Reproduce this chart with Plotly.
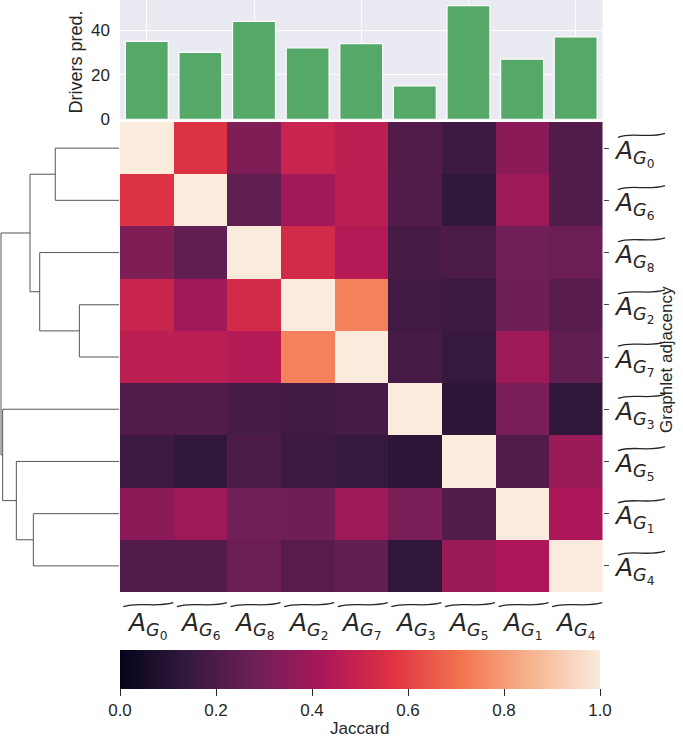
import plotly.graph_objects as go

# ---------------- data ----------------
label_digits = ["0", "6", "8", "2", "7", "3", "5", "1", "4"]   # clustered order
drivers_pred = [35, 30, 44, 32, 34, 15, 51, 27, 37]

jaccard = [
    [1.00, 0.56, 0.32, 0.50, 0.47, 0.21, 0.16, 0.35, 0.21],
    [0.56, 1.00, 0.25, 0.40, 0.465, 0.21, 0.13, 0.39, 0.21],
    [0.32, 0.25, 1.00, 0.53, 0.445, 0.185, 0.20, 0.285, 0.27],
    [0.50, 0.40, 0.53, 1.00, 0.74, 0.17, 0.16, 0.28, 0.225],
    [0.47, 0.465, 0.445, 0.74, 1.00, 0.185, 0.148, 0.39, 0.25],
    [0.21, 0.21, 0.185, 0.17, 0.185, 1.00, 0.12, 0.31, 0.125],
    [0.16, 0.13, 0.20, 0.16, 0.148, 0.12, 1.00, 0.213, 0.382],
    [0.35, 0.39, 0.285, 0.28, 0.39, 0.31, 0.213, 1.00, 0.428],
    [0.21, 0.21, 0.27, 0.225, 0.25, 0.125, 0.382, 0.428, 1.00],
]

# dendrogram merges (child a, child b, height); leaves 0..8, new nodes 9..
merge_a = [0, 3, 2, 9, 7, 6, 5, 12]
merge_b = [1, 4, 10, 11, 8, 13, 14, 15]
merge_h = [0.540, 0.336, 0.672, 0.754, 0.726, 0.870, 0.986, 1.0]

cbar_ticks = [0.0, 0.2, 0.4, 0.6, 0.8, 1.0]

rocket = [
    [0.0, "#03051a"], [1/7, "#35193e"], [2/7, "#701f57"], [3/7, "#ad1759"],
    [4/7, "#e13342"], [5/7, "#f37651"], [6/7, "#f6b48f"], [1.0, "#faebdd"],
]

# ---------------- layout geometry (pixels) ----------------
W, H = 683, 737
HM_L, HM_R, HM_T, HM_B = 120, 602.5, 122, 592
BAR_B = 119.3
DEN_L, DEN_R = 0, 120
TXT = "#262626"
FONT = "Liberation Sans, Arial, sans-serif"
n = len(label_digits)

def px(x):
    return x / W

def py(y):
    return 1 - y / H

cw = (HM_R - HM_L) / n
ch = (HM_B - HM_T) / n

fig = go.Figure()

# heatmap
fig.add_trace(go.Heatmap(
    z=jaccard, x=list(range(n)), y=list(range(n)),
    colorscale=rocket, zmin=0, zmax=1, xaxis="x", yaxis="y",
    colorbar=dict(
        orientation="h", x=px((HM_L + 600) / 2), xanchor="center",
        y=py(650), yanchor="top", len=480, lenmode="pixels",
        thickness=39, thicknessmode="pixels", xpad=0, ypad=0,
        outlinewidth=0, ticks="outside", ticklen=7, tickwidth=1,
        tickcolor=TXT, tickvals=cbar_ticks,
        ticktext=[f"{t:.1f}" for t in cbar_ticks],
        tickfont=dict(family=FONT, size=17, color=TXT),
    ),
    hoverongaps=False,
))

# bars
fig.add_trace(go.Bar(
    x=list(range(n)), y=drivers_pred, width=0.8,
    marker=dict(color="#55a868", line=dict(color="white", width=1.2)),
    xaxis="x2", yaxis="y2", showlegend=False,
))

# dendrogram
ypos = {i: float(i) for i in range(n)}
hpos = {i: 0.0 for i in range(n)}
dx, dy = [], []
for k, (a, b, h) in enumerate(zip(merge_a, merge_b, merge_h)):
    node = n + k
    dx += [hpos[a], h, h, hpos[b], None]
    dy += [ypos[a], ypos[a], ypos[b], ypos[b], None]
    ypos[node] = (ypos[a] + ypos[b]) / 2
    hpos[node] = h
fig.add_trace(go.Scatter(
    x=dx, y=dy, mode="lines", line=dict(color="#555555", width=1),
    xaxis="x3", yaxis="y3", showlegend=False, hoverinfo="skip",
))

hmax = max(merge_h)
span = hmax * (DEN_R - DEN_L) / (119 - 1)
r0 = span * 119 / (DEN_R - DEN_L)

shapes = [dict(type="rect", xref="x2 domain", yref="y2 domain",
               x0=0, x1=1, y0=0, y1=1, fillcolor="#eaeaf2",
               line=dict(width=0), layer="below")]

annotations = []

def tilde(x0, w, yb):
    pts = [(x0, yb + 2.2), (x0 + 0.3 * w, yb - 3.2),
           (x0 + 0.62 * w, yb + 3.6), (x0 + w, yb - 1.8)]
    p = [f"{px(a):.5f},{py(b):.5f}" for a, b in pts]
    return dict(type="path", xref="paper", yref="paper",
                path=f"M {p[0]} C {p[1]} {p[2]} {p[3]}",
                line=dict(color=TXT, width=1.3), layer="above")

LAB_SIZE = 25
for i, d in enumerate(label_digits):
    lab = f"<i>A</i><sub><i>G</i><sub>{d}</sub></sub>"
    # bottom labels
    cx = HM_L + (i + 0.5) * cw
    annotations.append(dict(
        x=i, xref="x", y=py(625), yref="paper", text=lab, showarrow=False,
        xanchor="center", yanchor="middle",
        font=dict(family="DejaVu Sans", size=LAB_SIZE, color=TXT)))
    shapes.append(tilde(cx - 23.5, 50, 604.5))
    # right labels
    cy = HM_T + (i + 0.5) * ch
    annotations.append(dict(
        x=px(612), xref="paper", y=py(cy + 5), yref="paper", text=lab,
        showarrow=False, xanchor="left", yanchor="middle",
        font=dict(family="DejaVu Sans", size=LAB_SIZE, color=TXT)))
    shapes.append(tilde(618, 47, cy - 13))

annotations.append(dict(
    x=px(666), y=py(360), xref="paper", yref="paper", text="Graphlet adjacency",
    textangle=-90, showarrow=False, xanchor="center", yanchor="middle",
    font=dict(family=FONT, size=17, color=TXT)))
annotations.append(dict(
    x=px(75), y=py(62.5), xref="paper", yref="paper", text="Drivers pred.",
    textangle=-90, showarrow=False, xanchor="center", yanchor="middle",
    font=dict(family=FONT, size=18, color=TXT)))
annotations.append(dict(
    x=px((HM_L + 600) / 2), y=py(728), xref="paper", yref="paper",
    text="Jaccard", showarrow=False, xanchor="center", yanchor="middle",
    font=dict(family=FONT, size=17, color=TXT)))

fig.update_layout(
    width=W, height=H,
    margin=dict(l=0, r=0, t=0, b=0, pad=0, autoexpand=False),
    paper_bgcolor="white", plot_bgcolor="white", showlegend=False,
    xaxis=dict(domain=[px(HM_L), px(HM_R)], range=[-0.5, n - 0.5],
               showticklabels=False, ticks="", showgrid=False, zeroline=False,
               showline=False, anchor="y"),
    yaxis=dict(domain=[py(HM_B), py(HM_T)], range=[n - 0.5, -0.5],
               side="right", ticks="outside", ticklen=5, tickwidth=1,
               tickcolor="#444444", tickvals=list(range(n)),
               showticklabels=False, showgrid=False, zeroline=False,
               showline=False, anchor="x"),
    xaxis2=dict(domain=[px(HM_L), px(HM_R)], range=[-0.5, n - 0.5],
                tickvals=[0, 2, 4, 6, 8], showticklabels=False, ticks="",
                showgrid=True, gridcolor="white", gridwidth=1.2,
                zeroline=False, showline=False, anchor="y2"),
    yaxis2=dict(domain=[py(BAR_B), 1.0], range=[0, 53.55],
                tickvals=[0, 20, 40], ticks="", showgrid=True,
                gridcolor="white", gridwidth=1.2, zeroline=False,
                showline=False, ticklabelstandoff=9,
                tickfont=dict(family=FONT, size=17, color=TXT), anchor="x2"),
    xaxis3=dict(domain=[px(DEN_L), px(DEN_R)], range=[r0, r0 - span],
                visible=False, anchor="y3"),
    yaxis3=dict(domain=[py(HM_B), py(HM_T)], range=[n - 0.5, -0.5],
                visible=False, anchor="x3"),
    shapes=shapes, annotations=annotations,
)

fig.write_html(
    "out.html",
    config={"displayModeBar": False},
    post_script="document.body.style.margin='0px';"
                "document.body.style.overflow='hidden';",
)
